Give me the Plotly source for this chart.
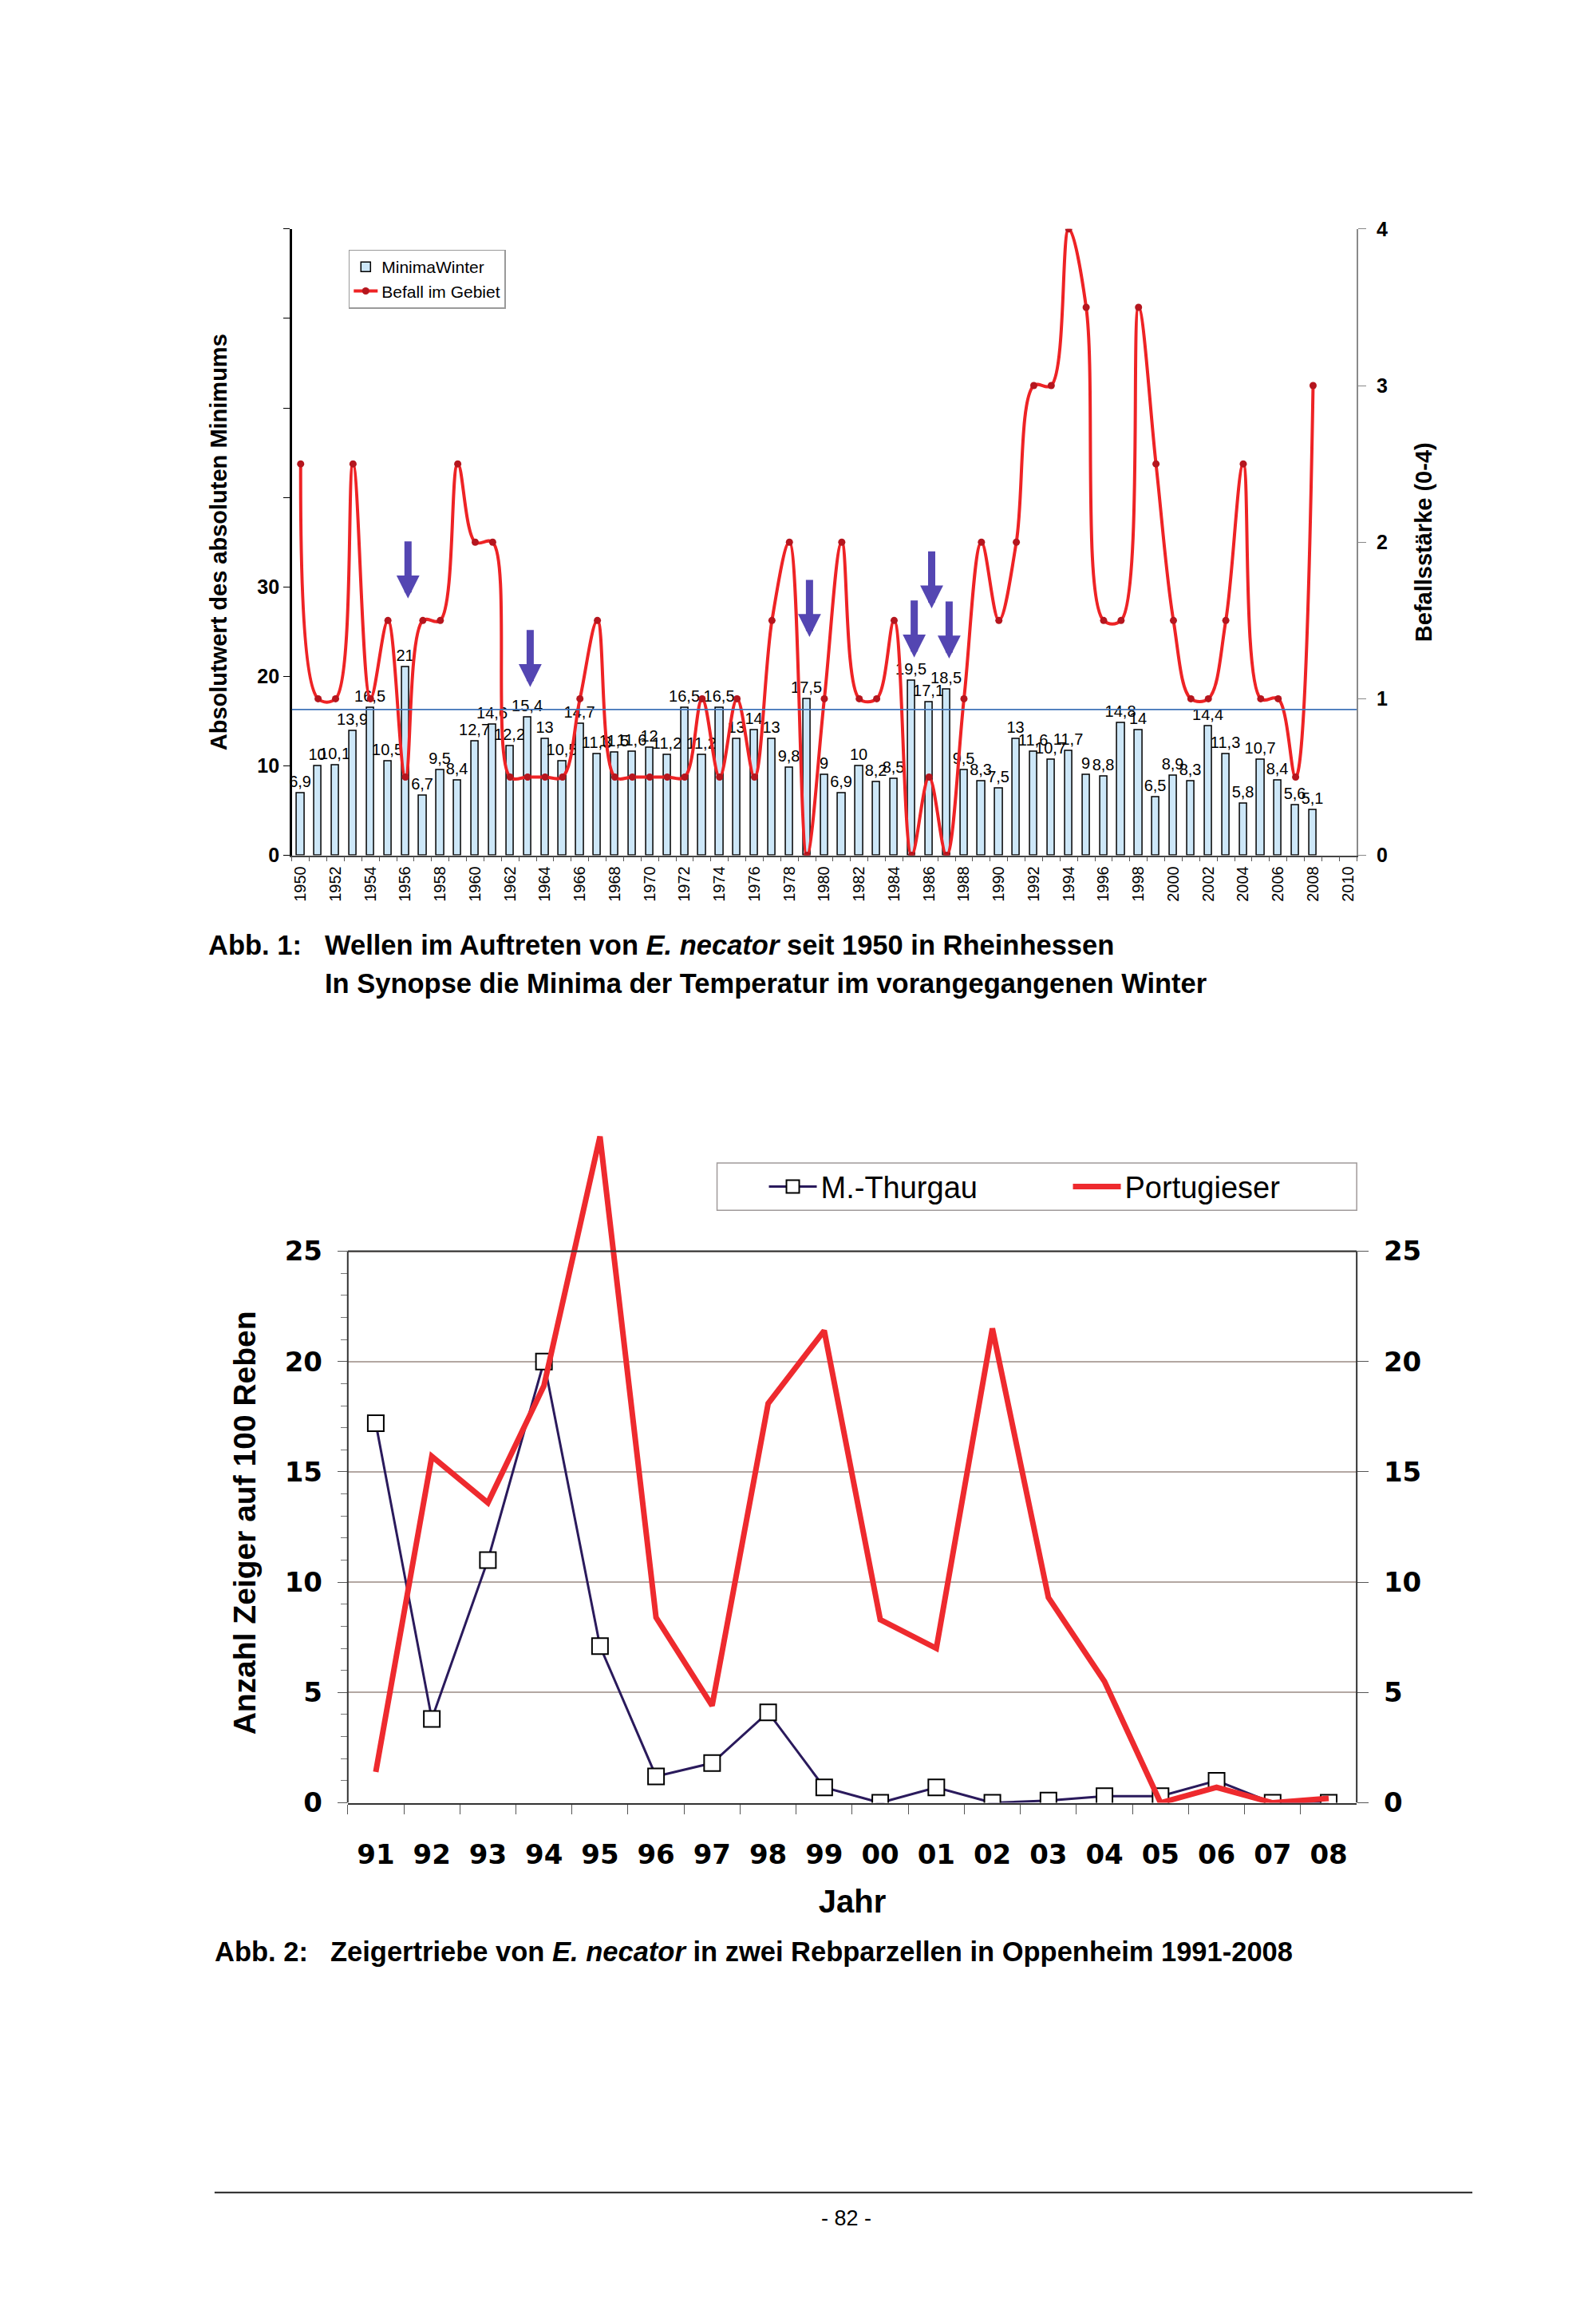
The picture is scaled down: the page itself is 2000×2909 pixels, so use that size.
import plotly.graph_objects as go

FONT = "Liberation Sans, Arial, sans-serif"
WIDE = "DejaVu Sans, Verdana, sans-serif"

# ---------------- Abb. 1 data ----------------
jahre_achse = ["1950", "1951", "1952", "1953", "1954", "1955", "1956", "1957", "1958", "1959",
               "1960", "1961", "1962", "1963", "1964", "1965", "1966", "1967", "1968", "1969",
               "1970", "1971", "1972", "1973", "1974", "1975", "1976", "1977", "1978", "1979",
               "1980", "1981", "1982", "1983", "1984", "1985", "1986", "1987", "1988", "1989",
               "1990", "1991", "1992", "1993", "1994", "1995", "1996", "1997", "1998", "1999",
               "2000", "2001", "2002", "2003", "2004", "2005", "2006", "2007", "2008", "2009",
               "2010"]
jahre_daten = jahre_achse[:59]

minima_winter = [6.9, 10, 10.1, 13.9, 16.5, 10.5, 21, 6.7, 9.5, 8.4,
                 12.7, 14.6, 12.2, 15.4, 13, 10.5, 14.7, 11.3, 11.5, 11.6,
                 12, 11.2, 16.5, 11.2, 16.5, 13, 14, 13, 9.8, 17.5,
                 9, 6.9, 10, 8.2, 8.5, 19.5, 17.1, 18.5, 9.5, 8.3,
                 7.5, 13, 11.6, 10.7, 11.7, 9, 8.8, 14.8, 14, 6.5,
                 8.9, 8.3, 14.4, 11.3, 5.8, 10.7, 8.4, 5.6, 5.1]

befall = [2.5, 1.0, 1.0, 2.5, 1.0, 1.5, 0.5, 1.5, 1.5, 2.5,
          2.0, 2.0, 0.5, 0.5, 0.5, 0.5, 1.0, 1.5, 0.5, 0.5,
          0.5, 0.5, 0.5, 1.0, 0.5, 1.0, 0.5, 1.5, 2.0, 0.0,
          1.0, 2.0, 1.0, 1.0, 1.5, 0.0, 0.5, 0.0, 1.0, 2.0,
          1.5, 2.0, 3.0, 3.0, 4.0, 3.5, 1.5, 1.5, 3.5, 2.5,
          1.5, 1.0, 1.0, 1.5, 2.5, 1.0, 1.0, 0.5, 3.0]

schwelle = 16.3  # horizontal reference line (left axis)

pfeil_jahre = ["1956", "1963", "1979", "1985", "1986", "1987"]
pfeil_spitze = [28.7, 18.8, 24.4, 22.1, 27.6, 22.0]

links_ticks = [0, 10, 20, 30, 40, 50, 60, 70]
links_text = ["0", "10", "20", "30", "", "", "", ""]
rechts_ticks = [0, 1, 2, 3, 4]

# ---------------- Abb. 2 data ----------------
jahre2 = ["91", "92", "93", "94", "95", "96", "97", "98", "99",
          "00", "01", "02", "03", "04", "05", "06", "07", "08"]
m_thurgau = [17.2, 3.8, 11.0, 20.0, 7.1, 1.2, 1.8, 4.1, 0.7,
             0.0, 0.7, 0.0, 0.1, 0.3, 0.3, 1.0, 0.0, 0.0]
portugieser = [1.4, 15.7, 13.6, 18.9, 30.2, 8.4, 4.4, 18.1, 21.4,
               8.3, 7.0, 21.5, 9.3, 5.5, 0.0, 0.7, 0.0, 0.2]
ticks2 = [0, 5, 10, 15, 20, 25]
minor2 = [v for v in range(1, 25) if v % 5]

W, H = 2000, 2909


def px(x):
    return x / W


def py(y):
    return 1 - y / H


bar_labels = [("%g" % v).replace(".", ",") for v in minima_winter]
tick_text_x = [j if i % 2 == 0 else "" for i, j in enumerate(jahre_achse)]

fig = go.Figure()

fig.add_trace(go.Bar(
    x=jahre_daten, y=minima_winter, name="MinimaWinter",
    marker=dict(color="#cde7f8", line=dict(color="black", width=1.5)),
    width=0.42, text=bar_labels, textposition="outside", textangle=0,
    constraintext="none", cliponaxis=False,
    textfont=dict(size=20, color="black", family=FONT),
    xaxis="x", yaxis="y", legend="legend"))

fig.add_trace(go.Scatter(
    x=jahre_daten, y=befall, name="Befall im Gebiet", mode="lines+markers",
    line=dict(color="#ee2325", width=4, shape="spline", smoothing=1.0),
    marker=dict(color="#b5161e", size=9),
    xaxis="x", yaxis="y2", legend="legend"))

fig.add_trace(go.Scatter(
    x=jahre2, y=m_thurgau, name="M.-Thurgau", mode="lines+markers",
    line=dict(color="#2a1a5c", width=3),
    marker=dict(symbol="square", size=20, color="white", line=dict(color="black", width=2)),
    xaxis="x2", yaxis="y3", legend="legend2"))

fig.add_trace(go.Scatter(
    x=jahre2, y=portugieser, name="Portugieser", mode="lines",
    line=dict(color="#ee2a2e", width=7),
    xaxis="x2", yaxis="y4", legend="legend2"))

shapes = [
    dict(type="line", xref="x domain", x0=0, x1=1, yref="y", y0=schwelle, y1=schwelle,
         line=dict(color="#3f73b8", width=1.8)),
    # frame of Abb. 2
    dict(type="line", xref="x2 domain", x0=0, x1=0, yref="y3", y0=0, y1=25,
         line=dict(color="#333333", width=2)),
    dict(type="line", xref="x2 domain", x0=1, x1=1, yref="y3", y0=0, y1=25,
         line=dict(color="#333333", width=2)),
    dict(type="line", xref="x2 domain", x0=0, x1=1, yref="y3", y0=25, y1=25,
         line=dict(color="#333333", width=2)),
    # legend box of Abb. 2
    dict(type="rect", xref="paper", yref="paper", x0=px(890), x1=px(1692),
         y0=py(1512), y1=py(1452), line=dict(color="#a09a9a", width=1.5)),
    # footer line
    dict(type="line", xref="paper", yref="paper", x0=px(260), x1=px(1837),
         y0=py(2757), y1=py(2757), line=dict(color="#222222", width=2)),
]

annotations = []
for j, s in zip(pfeil_jahre, pfeil_spitze):
    annotations.append(dict(x=jahre_achse.index(j) + 0.15, y=s, xref="x", yref="y",
                            ax=0, ay=-74, text=" ",
                            showarrow=True, arrowhead=2, arrowwidth=9, arrowsize=0.64,
                            arrowcolor="#5446b2", standoff=0, startstandoff=0,
                            font=dict(size=2)))

cap = dict(xref="paper", yref="paper", showarrow=False, xanchor="left", yanchor="middle",
           font=dict(size=34.5, family=FONT, color="black"))
annotations += [
    dict(cap, x=px(250), y=py(1176), text="<b>Abb. 1:</b>"),
    dict(cap, x=px(396), y=py(1176),
         text="<b>Wellen im Auftreten von <i>E. necator</i> seit 1950 in Rheinhessen</b>"),
    dict(cap, x=px(396), y=py(1224),
         text="<b>In Synopse die Minima der Temperatur im vorangegangenen Winter</b>"),
    dict(cap, x=px(258), y=py(2452), text="<b>Abb. 2:</b>"),
    dict(cap, x=px(403), y=py(2452),
         text="<b>Zeigertriebe von <i>E. necator</i> in zwei Rebparzellen in Oppenheim 1991-2008</b>"),
    dict(xref="paper", yref="paper", showarrow=False, x=px(1052), y=py(2790),
         xanchor="center", yanchor="middle", text="- 82 -",
         font=dict(size=27, family=FONT, color="black")),
    # y-axis title of Abb. 2, centred on the 0-25 frame
    dict(xref="paper", yref="y3", x=px(298), y=12.7, showarrow=False, textangle=-90,
         xanchor="center", yanchor="middle", text="<b>Anzahl Zeiger auf 100 Reben</b>",
         font=dict(size=39, family=FONT, color="black")),
]

fig.update_layout(
    width=W, height=H, autosize=False,
    margin=dict(l=0, r=0, t=0, b=0),
    paper_bgcolor="white", plot_bgcolor="rgba(0,0,0,0)",
    font=dict(family=FONT, color="black"),
    showlegend=True,
    bargap=0,
    xaxis=dict(domain=[px(357), px(1692)], anchor="y", type="category",
               categoryorder="array", categoryarray=jahre_achse,
               range=[-0.5, 60.5], tickvals=jahre_achse, ticktext=tick_text_x,
               tickangle=-90, tickson="boundaries", ticks="outside", ticklen=6,
               tickcolor="#555555", showline=True, linecolor="#444444", linewidth=1.5,
               tickfont=dict(size=20, family=FONT), showgrid=False, ticklabelstandoff=4),
    yaxis=dict(domain=[py(1062), py(268)], anchor="x", range=[0, 70],
               tickvals=links_ticks, ticktext=links_text, ticks="outside", ticklen=8,
               tickcolor="black", showline=True, linecolor="black", linewidth=2.5,
               showgrid=False, zeroline=False,
               tickfont=dict(size=25, family=FONT, weight="bold"),
               title=dict(text="Absolutwert des absoluten Minimums",
                          font=dict(size=29, family=FONT, weight="bold"), standoff=30)),
    yaxis2=dict(overlaying="y", side="right", anchor="x", range=[0, 4],
                tickvals=rechts_ticks, ticks="outside", ticklen=10, tickcolor="#888888",
                showline=True, linecolor="#8a8a8a", linewidth=1.5, showgrid=False,
                zeroline=False, ticklabelstandoff=8,
                tickfont=dict(size=25, family=FONT, weight="bold"),
                title=dict(text="Befallsstärke (0-4)",
                           font=dict(size=29, family=FONT, weight="bold"), standoff=36)),
    xaxis2=dict(domain=[px(427), px(1692)], anchor="y3", type="category",
                categoryorder="array", categoryarray=jahre2, range=[-0.5, 17.5],
                ticks="outside", tickson="boundaries", ticklen=12, tickcolor="#555555",
                showline=True, linecolor="#333333", linewidth=2, showgrid=False,
                ticklabelstandoff=34,
                tickfont=dict(size=34, family=WIDE, weight="bold"),
                title=dict(text="Jahr", font=dict(size=40, family=FONT, weight="bold"),
                           standoff=26)),
    yaxis3=dict(domain=[py(2263), py(1396)], anchor="x2", range=[0, 31],
                tickvals=ticks2, ticks="outside", ticklen=12, tickcolor="#555555",
                minor=dict(tickvals=minor2, ticks="outside", ticklen=8, tickcolor="#777777",
                           showgrid=False),
                showgrid=True, gridcolor="#b3a7a2", gridwidth=1.5, showline=False,
                zeroline=False, ticklabelstandoff=12,
                tickfont=dict(size=34, family=WIDE, weight="bold")),
    yaxis4=dict(overlaying="y3", side="right", anchor="x2", range=[0, 31],
                tickvals=ticks2, ticks="outside", ticklen=14, tickcolor="#555555",
                showgrid=False, showline=False, zeroline=False, ticklabelstandoff=12,
                tickfont=dict(size=34, family=WIDE, weight="bold")),
    legend=dict(x=px(428), y=py(294), xanchor="left", yanchor="top",
                bordercolor="#9a9a9a", borderwidth=1.5, bgcolor="white",
                font=dict(size=21, family=FONT), tracegroupgap=0),
    legend2=dict(orientation="h", x=px(950), y=py(1482), xanchor="left", yanchor="middle",
                 bgcolor="rgba(0,0,0,0)", borderwidth=0, itemwidth=60,
                 entrywidth=306, entrywidthmode="pixels",
                 font=dict(size=38, family=FONT)),
    shapes=shapes,
    annotations=annotations,
)

fig.write_html("out.html")
